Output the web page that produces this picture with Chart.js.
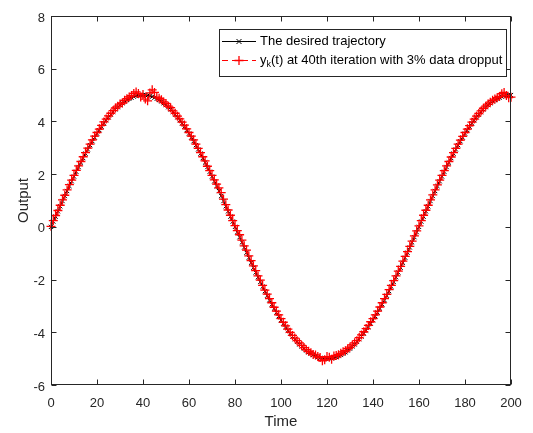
<!DOCTYPE html>
<html><head><meta charset="utf-8">
<script src="https://cdn.jsdelivr.net/npm/chart.js@4/dist/chart.umd.min.js"></script>
<style>html,body{margin:0;padding:0;background:#fff}#wrap{width:533px;height:433px}</style>
</head><body><div id="wrap"><canvas id="c" width="533" height="433"></canvas></div>
<script>
const time = [0,1,2,3,4,5,6,7,8,9,10,11,12,13,14,15,16,17,18,19,20,21,22,23,24,25,26,27,28,29,30,31,32,33,34,35,36,37,38,39,40,41,42,43,44,45,46,47,48,49,50,51,52,53,54,55,56,57,58,59,60,61,62,63,64,65,66,67,68,69,70,71,72,73,74,75,76,77,78,79,80,81,82,83,84,85,86,87,88,89,90,91,92,93,94,95,96,97,98,99,100,101,102,103,104,105,106,107,108,109,110,111,112,113,114,115,116,117,118,119,120,121,122,123,124,125,126,127,128,129,130,131,132,133,134,135,136,137,138,139,140,141,142,143,144,145,146,147,148,149,150,151,152,153,154,155,156,157,158,159,160,161,162,163,164,165,166,167,168,169,170,171,172,173,174,175,176,177,178,179,180,181,182,183,184,185,186,187,188,189,190,191,192,193,194,195,196,197,198,199,200];
const desiredTrajectory = [
0,0.20,0.39,0.59,0.78,0.98,1.17,1.36,1.55,1.73,1.91,
2.09,2.27,2.44,2.61,2.78,2.94,3.10,3.25,3.39,3.54,
3.67,3.80,3.93,4.05,4.16,4.26,4.36,4.46,4.54,4.62,
4.69,4.76,4.81,4.86,4.90,4.94,4.97,4.99,5.00,5.00,
5.00,4.99,4.97,4.94,4.90,4.86,4.81,4.76,4.69,4.62,
4.54,4.46,4.36,4.26,4.16,4.05,3.93,3.80,3.67,3.54,
3.39,3.25,3.10,2.94,2.78,2.61,2.44,2.27,2.09,1.91,
1.73,1.55,1.36,1.17,0.98,0.78,0.59,0.39,0.20,0,
-0.20,-0.39,-0.59,-0.78,-0.98,-1.17,-1.36,-1.55,-1.73,-1.91,
-2.09,-2.27,-2.44,-2.61,-2.78,-2.94,-3.10,-3.25,-3.39,-3.54,
-3.67,-3.80,-3.93,-4.05,-4.16,-4.26,-4.36,-4.46,-4.54,-4.62,
-4.69,-4.76,-4.81,-4.86,-4.90,-4.94,-4.97,-4.99,-5.00,-5.00,
-5.00,-4.99,-4.97,-4.94,-4.90,-4.86,-4.81,-4.76,-4.69,-4.62,
-4.54,-4.46,-4.36,-4.26,-4.16,-4.05,-3.93,-3.80,-3.67,-3.54,
-3.39,-3.25,-3.10,-2.94,-2.78,-2.61,-2.44,-2.27,-2.09,-1.91,
-1.73,-1.55,-1.36,-1.17,-0.98,-0.78,-0.59,-0.39,-0.20,0,
0.20,0.39,0.59,0.78,0.98,1.17,1.36,1.55,1.73,1.91,
2.09,2.27,2.44,2.61,2.78,2.94,3.10,3.25,3.39,3.54,
3.67,3.80,3.93,4.05,4.16,4.26,4.36,4.46,4.54,4.62,
4.69,4.76,4.81,4.86,4.90,4.94,4.97,4.99,5.00,5.00];
const outputIter40 = [
0.02,0.24,0.43,0.62,0.82,1.02,1.20,1.40,1.60,1.77,1.95,
2.14,2.31,2.48,2.66,2.82,2.99,3.14,3.30,3.44,3.58,
3.71,3.85,3.98,4.09,4.21,4.31,4.41,4.51,4.58,4.66,
4.70,4.80,4.86,4.93,4.98,5.06,5.12,5.06,4.93,5.02,
4.85,4.78,5.08,5.20,5.10,4.92,4.88,4.82,4.74,4.68,
4.58,4.52,4.40,4.31,4.20,4.10,3.97,3.86,3.72,3.58,
3.44,3.30,3.14,2.98,2.82,2.66,2.50,2.30,2.13,1.95,
1.78,1.62,1.48,1.30,1.05,0.84,0.64,0.44,0.24,0.05,
-0.14,-0.30,-0.50,-0.72,-0.88,-1.10,-1.28,-1.48,-1.66,-1.86,
-2.02,-2.22,-2.40,-2.55,-2.72,-2.88,-3.05,-3.20,-3.34,-3.48,
-3.62,-3.76,-3.88,-4.00,-4.12,-4.22,-4.32,-4.40,-4.50,-4.58,
-4.66,-4.72,-4.78,-4.84,-4.86,-4.92,-4.96,-5.08,-5.04,-4.92,
-4.95,-5.02,-4.90,-4.88,-4.85,-4.80,-4.74,-4.70,-4.62,-4.56,
-4.48,-4.40,-4.32,-4.20,-4.10,-3.98,-3.86,-3.74,-3.60,-3.48,
-3.34,-3.20,-3.04,-2.88,-2.72,-2.56,-2.38,-2.22,-2.04,-1.86,
-1.68,-1.50,-1.30,-1.12,-0.94,-0.74,-0.54,-0.34,-0.15,0.04,
0.24,0.44,0.63,0.82,1.02,1.21,1.40,1.59,1.77,1.95,
2.13,2.31,2.48,2.65,2.82,2.98,3.14,3.29,3.43,3.58,
3.71,3.84,3.97,4.09,4.20,4.30,4.40,4.50,4.58,4.66,
4.73,4.80,4.85,4.90,4.95,5.05,5.10,4.98,4.90,4.92];
const xTickValues = [0,20,40,60,80,100,120,140,160,180,200];
const yTickValues = [-6,-4,-2,0,2,4,6,8];
const desiredLabel = 'The desired trajectory';
const outputLabelMain = 'y';
const outputLabelSub = 'k';
const outputLabelRest = '(t) at 40th iteration with 3% data dropput';
const xTitle = 'Time';
const yTitle = 'Output';

const FONT = "'Liberation Sans', Arial, Helvetica, sans-serif";
const AX = '#262626';

const toXY = (ys) => time.map((t, i) => ({x: t, y: ys[i]}));

const boxPlugin = {
  id: 'box',
  afterDraw(chart) {
    const ctx = chart.ctx;
    const a = chart.chartArea;
    const xs = chart.scales.x, ys = chart.scales.y;
    const L = Math.round(a.left) + 0.5, R = Math.round(a.right) - 0.5;
    const T = Math.round(a.top) + 0.5, B = Math.round(a.bottom) - 0.5;
    ctx.save();
    ctx.strokeStyle = AX; ctx.lineWidth = 1;
    ctx.strokeRect(L, T, R - L, B - T);
    const tl = 5;
    ctx.beginPath();
    xs.ticks.forEach(tk => {
      const px = Math.round(xs.getPixelForValue(tk.value)) + 0.5;
      ctx.moveTo(px, B); ctx.lineTo(px, B - tl);
      ctx.moveTo(px, T); ctx.lineTo(px, T + tl);
    });
    ys.ticks.forEach(tk => {
      const py = Math.round(ys.getPixelForValue(tk.value)) + 0.5;
      ctx.moveTo(L, py); ctx.lineTo(L + tl, py);
      ctx.moveTo(R, py); ctx.lineTo(R - tl, py);
    });
    ctx.stroke();

    // legend
    const lx = 219.5, ly = 29.5, lw = 287, lh = 47;
    ctx.fillStyle = '#fff';
    ctx.fillRect(lx, ly, lw, lh);
    ctx.strokeStyle = AX;
    ctx.strokeRect(lx, ly, lw, lh);
    const r1 = 41.5, r2 = 60.5, sx0 = 222, sx1 = 256, mx = 239;
    ctx.strokeStyle = '#000'; ctx.lineWidth = 1;
    ctx.beginPath(); ctx.moveTo(sx0, r1); ctx.lineTo(sx1, r1); ctx.stroke();
    ctx.beginPath();
    ctx.moveTo(mx - 2.5, r1 - 2.5); ctx.lineTo(mx + 2.5, r1 + 2.5);
    ctx.moveTo(mx - 2.5, r1 + 2.5); ctx.lineTo(mx + 2.5, r1 - 2.5);
    ctx.stroke();
    ctx.strokeStyle = '#ff0000';
    ctx.setLineDash([6, 4]);
    ctx.beginPath(); ctx.moveTo(sx0, r2); ctx.lineTo(sx1, r2); ctx.stroke();
    ctx.setLineDash([]);
    ctx.lineWidth = 1.3;
    ctx.beginPath();
    ctx.moveTo(mx - 4.5, r2); ctx.lineTo(mx + 4.5, r2);
    ctx.moveTo(mx, r2 - 4.5); ctx.lineTo(mx, r2 + 4.5);
    ctx.stroke();
    ctx.fillStyle = '#000';
    ctx.textBaseline = 'middle';
    ctx.textAlign = 'left';
    ctx.font = '13px ' + FONT;
    ctx.fillText(desiredLabel, 260, r1);
    let x = 260;
    ctx.fillText(outputLabelMain, x, r2);
    x += ctx.measureText(outputLabelMain).width;
    ctx.font = '9px ' + FONT;
    ctx.fillText(outputLabelSub, x, r2 + 4);
    x += ctx.measureText(outputLabelSub).width;
    ctx.font = '13px ' + FONT;
    ctx.fillText(outputLabelRest, x, r2);
    ctx.restore();
  }
};

new Chart(document.getElementById('c'), {
  type: 'line',
  data: {
    datasets: [
      {
        label: desiredLabel,
        data: toXY(desiredTrajectory),
        borderColor: '#000', borderWidth: 1,
        pointStyle: 'crossRot', pointRadius: 3, pointBorderColor: '#000', pointBorderWidth: 1,
        pointBackgroundColor: '#000',
        order: 1, clip: false, tension: 0
      },
      {
        label: outputLabelMain + outputLabelSub + outputLabelRest,
        data: toXY(outputIter40),
        borderColor: '#ff0000', borderWidth: 1, borderDash: [6, 4],
        pointStyle: 'cross', pointRadius: 4.5, pointBorderColor: '#ff0000', pointBorderWidth: 1.3,
        pointBackgroundColor: '#ff0000',
        order: 0, clip: false, tension: 0
      }
    ]
  },
  options: {
    responsive: false, animation: false, devicePixelRatio: 1,
    layout: { padding: { top: 16, right: 22, left: 0, bottom: 0 } },
    plugins: { legend: { display: false }, tooltip: { enabled: false } },
    events: [],
    scales: {
      x: {
        type: 'linear', min: 0, max: 200,
        afterBuildTicks: s => { s.ticks = xTickValues.map(v => ({ value: v })); },
        afterFit: s => { s.height = 48; },
        grid: { drawOnChartArea: false, drawTicks: false },
        border: { display: false },
        ticks: { font: { family: FONT, size: 13 }, color: AX, padding: 11, maxRotation: 0 },
        title: { display: true, text: xTitle, font: { family: FONT, size: 15 }, color: AX, padding: { top: 0, bottom: 2 } }
      },
      y: {
        type: 'linear', min: -6, max: 8,
        afterBuildTicks: s => { s.ticks = yTickValues.map(v => ({ value: v })); },
        afterFit: s => { s.width = 51; },
        grid: { drawOnChartArea: false, drawTicks: false },
        border: { display: false },
        ticks: { font: { family: FONT, size: 13 }, color: AX, padding: 6, labelOffset: 2 },
        title: { display: true, text: yTitle, font: { family: FONT, size: 15 }, color: AX, padding: { top: 15, bottom: 0 } }
      }
    }
  },
  plugins: [boxPlugin]
});
</script></body></html>
